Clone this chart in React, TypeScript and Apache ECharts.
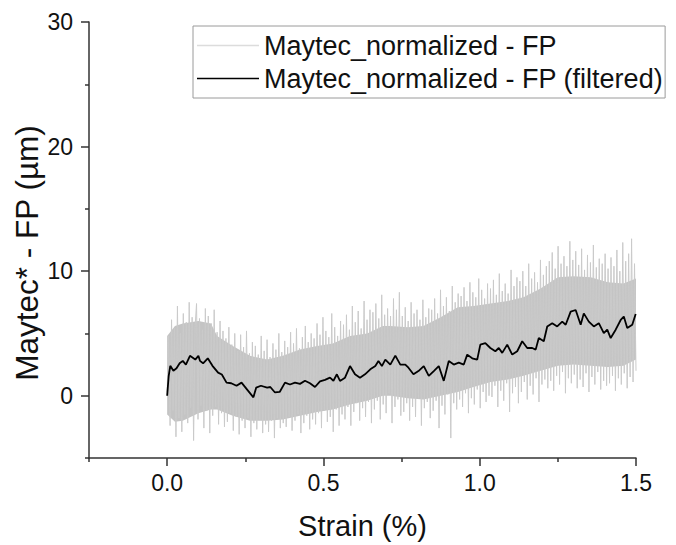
import React, { useEffect, useRef } from "react";
import * as echarts from "echarts";

// ---- Data ----
const seriesNames = ["Maytec_normalized - FP", "Maytec_normalized - FP (filtered)"];

const xMajorTicks = [0, 0.5, 1.0, 1.5];
const xMinorTicks = [-0.25, 0.25, 0.75, 1.25];
const yMajorTicks = [0, 10, 20, 30];
const yMinorTicks = [-5, 5, 15, 25];

// filtered curve (strain %, µm)
const filteredX = [
  0.0, 0.005, 0.01, 0.02, 0.03, 0.04, 0.05, 0.06, 0.073, 0.09, 0.1, 0.105, 0.115, 0.13, 0.145,
  0.163, 0.175, 0.19, 0.205, 0.222, 0.238, 0.254, 0.276, 0.285, 0.3, 0.32, 0.33, 0.345, 0.36,
  0.377, 0.393, 0.409, 0.425, 0.441, 0.457, 0.473, 0.489, 0.505, 0.521, 0.532, 0.543, 0.553,
  0.569, 0.585, 0.601, 0.617, 0.633, 0.65, 0.666, 0.676, 0.687, 0.698, 0.714, 0.73, 0.746,
  0.762, 0.772, 0.788, 0.804, 0.821, 0.837, 0.853, 0.869, 0.885, 0.901, 0.917, 0.933, 0.949,
  0.96, 0.976, 0.992, 1.002, 1.018, 1.034, 1.05, 1.061, 1.072, 1.088, 1.104, 1.12, 1.136,
  1.152, 1.168, 1.179, 1.189, 1.205, 1.216, 1.232, 1.248, 1.264, 1.275, 1.291, 1.307, 1.323,
  1.333, 1.349, 1.365, 1.381, 1.397, 1.408, 1.419, 1.435, 1.451, 1.461, 1.472, 1.488, 1.499,
];
const filteredY = [
  0.0, 1.6, 2.4, 2.0, 2.2, 2.6, 2.8, 2.5, 3.2, 2.9, 3.2, 2.8, 2.6, 3.0, 2.4,
  1.85, 1.7, 1.05, 1.0, 0.8, 1.05, 0.55, -0.13, 0.65, 0.8, 0.65, 0.7, 0.26, 0.3,
  1.05, 0.9, 1.05, 0.95, 1.2, 1.0, 0.7, 1.15, 1.27, 1.45, 1.2, 1.72, 1.19,
  1.45, 2.38, 1.72, 1.45, 1.72, 2.12, 2.38, 2.78, 2.38, 2.9, 2.5, 3.22, 2.5,
  2.5, 2.25, 1.72, 1.98, 2.38, 1.59, 1.98, 2.38, 1.19, 2.78, 2.5, 2.65, 2.5,
  3.3, 3.0, 2.9, 4.1, 4.23, 3.83, 3.57, 3.83, 3.44, 4.1, 3.3, 3.57, 4.37,
  3.83, 3.83, 3.7, 4.63, 4.37, 5.56, 5.82, 5.56, 5.95, 5.7, 6.75, 6.88, 5.69,
  6.61, 5.95, 5.56, 5.82, 5.03, 5.3, 4.63, 5.3, 6.08, 6.35, 5.43, 5.7, 6.56,
];

// dense core of the raw signal (lower / upper edge of the solid grey band)
const bandX = [
  0.0, 0.025, 0.05, 0.1, 0.14, 0.16, 0.21, 0.265, 0.32, 0.37,
  0.425, 0.48, 0.53, 0.585, 0.64, 0.69, 0.714, 0.77, 0.82, 0.875,
  0.93, 0.98, 1.035, 1.09, 1.14, 1.195, 1.25, 1.3, 1.355, 1.41,
  1.46, 1.5,
];
const bandHigh = [
  4.8, 5.6, 5.8, 6.0, 5.8, 4.8, 4.0, 3.2, 2.9, 3.2,
  3.7, 4.0, 4.2, 4.8, 5.0, 5.6, 5.6, 5.5, 5.6, 6.3,
  7.1, 7.2, 7.4, 7.6, 7.9, 8.6, 9.5, 9.6, 9.5, 9.1,
  9.0, 9.4,
];
const bandLow = [
  -1.5, -2.1, -2.0, -1.4, -1.1, -1.1, -1.6, -2.0, -2.0, -1.9,
  -1.6, -1.3, -1.1, -0.7, -0.4, 0.0, 0.0, -0.2, -0.3, 0.0,
  0.3, 0.7, 1.1, 1.3, 1.6, 2.0, 2.4, 2.5, 2.4, 2.3,
  2.4, 2.9,
];

// raw (unfiltered) readings, evenly sampled from 0 to 1.5 % strain
const rawY = [
  0.3, 4.8, -2.4, 6.1, -1.2, 5.4, -3.3, 7.2, -1.8, 5.0, -2.9, 6.6, -1.5, 5.9, -2.2, 7.5, -1.0, 6.3, -3.6, 5.5,
  7.4, -1.9, 6.2, -0.8, 5.3, -2.6, 7.0, -1.2, 6.4, -3.0, 5.8, -1.6, 6.9, -0.9, 5.1, -2.3, 6.0, -1.4, 5.2, -2.5,
  4.6, -2.1, 5.5, -1.4, 4.1, -2.8, 5.0, -1.7, 3.6, -3.1, 4.9, -2.0, 3.9, -2.6, 5.2, -1.8, 3.4, -3.3, 4.3, -2.2,
  4.0, -2.7, 3.3, -1.9, 4.8, -3.0, 3.6, -2.3, 4.5, -2.9, 3.1, -2.0, 4.2, -3.4, 3.7, -1.8, 5.0, -2.6, 3.5, -2.2,
  4.4, -2.5, 3.9, -1.7, 5.1, -2.8, 4.2, -2.0, 5.4, -1.5, 3.8, -3.0, 4.7, -2.2, 5.6, -1.6, 4.3, -2.7, 5.0, -1.9,
  4.6, -2.3, 5.8, -1.4, 4.9, -2.6, 6.3, -1.2, 5.2, -2.1, 4.7, -1.7, 6.6, -2.9, 5.5, -1.1, 4.8, -2.4, 6.0, -1.5,
  5.7, -1.9, 6.5, -0.9, 5.3, -2.4, 7.2, -1.3, 5.9, -0.6, 6.8, -2.0, 5.4, -1.0, 7.6, -1.7, 6.1, -0.5, 6.9, -2.2,
  6.7, -1.1, 7.4, -0.4, 6.2, -1.9, 8.1, -0.7, 6.5, -1.4, 7.0, 0.2, 6.4, -2.2, 7.8, -0.9, 6.9, -0.3, 8.3, -1.6,
  6.4, -1.3, 7.1, -0.6, 6.0, -2.0, 7.5, -0.9, 6.6, -1.7, 6.9, -0.2, 6.1, -2.4, 7.7, -1.0, 6.3, -0.5, 7.0, -1.8,
  6.9, -1.2, 7.8, -0.4, 6.6, -2.6, 8.5, -0.8, 7.2, -1.5, 7.9, 0.1, 6.8, -3.4, 8.8, -0.6, 7.5, -1.1, 8.2, -0.3,
  8.0, -0.9, 8.7, 0.2, 7.6, -1.4, 9.1, -0.2, 8.3, -0.7, 7.9, 0.5, 9.4, -1.0, 8.5, 0.3, 7.8, -0.5, 9.0, 0.0,
  8.6, -0.1, 9.3, 0.8, 8.1, -0.9, 9.8, 0.4, 8.4, -0.4, 9.0, 1.0, 8.2, -1.3, 10.1, 0.2, 8.8, 0.7, 9.5, -0.6,
  9.2, 0.3, 10.0, 1.1, 8.8, -0.3, 10.6, 0.8, 9.4, 0.1, 9.9, 1.4, 9.1, -0.5, 10.9, 0.9, 9.7, 1.3, 10.4, 0.6,
  10.8, 1.2, 11.5, 0.4, 10.2, 1.6, 12.0, 0.9, 10.6, 1.9, 11.2, 0.2, 10.4, 1.4, 12.4, 1.0, 10.9, 1.7, 11.6, 0.6,
  10.5, 1.3, 11.8, 0.7, 10.1, 1.8, 11.3, 0.3, 10.7, 1.5, 12.1, 0.9, 10.3, 1.9, 11.0, 0.5, 10.6, 1.2, 11.4, 0.8,
  10.2, 1.0, 11.1, 1.6, 10.4, 0.4, 11.7, 1.4, 10.0, 0.9, 12.3, 1.8, 10.8, 0.6, 11.4, 1.5, 12.6, 1.1, 10.6, 2.0,
];
const rawStart = 0;
const rawEnd = 1.5;

const FONT = "'Liberation Sans', Arial, Helvetica, sans-serif";
const AXIS_COLOR = "#333333";
const BAND_COLOR = "#c4c4c4";
const RAW_COLOR = "#cacaca";

export default function App() {
  const ref = useRef<HTMLDivElement>(null);

  useEffect(() => {
    if (!ref.current) return;
    const chart = echarts.init(ref.current, undefined, { renderer: "svg" });

    const step = (rawEnd - rawStart) / (rawY.length - 1);
    const rawData = rawY.map((v, i) => [rawStart + i * step, v]);
    const filteredData = filteredX.map((x, i) => [x, filteredY[i]]);

    const axisLine = { show: true, onZero: false, lineStyle: { color: AXIS_COLOR, width: 1.5 } };
    const tickStyle = { color: AXIS_COLOR, width: 1.5 };

    chart.setOption({
      animation: false,
      textStyle: { fontFamily: FONT },
      grid: { left: 89, right: 40, top: 22, bottom: 83, containLabel: false },
      legend: {
        orient: "vertical",
        left: 193,
        top: 26,
        padding: [6, 2, 6, 4],
        itemGap: 6,
        itemWidth: 62,
        itemHeight: 1.6,
        borderColor: "#9a9a9a",
        borderWidth: 1,
        textStyle: { fontSize: 27, lineHeight: 26, color: "#111", fontFamily: FONT },
        data: [
          { name: seriesNames[0], icon: "rect", itemStyle: { color: "#dcdcdc" } },
          { name: seriesNames[1], icon: "rect", itemStyle: { color: "#000" } },
        ],
      },
      xAxis: [
        {
          type: "value",
          min: -0.25,
          max: 1.5,
          position: "bottom",
          name: "Strain (%)",
          nameLocation: "middle",
          nameGap: 53,
          nameTextStyle: { fontSize: 29, color: "#111", fontFamily: FONT },
          axisLine,
          axisTick: { show: true, length: 8, customValues: xMajorTicks, lineStyle: tickStyle },
          axisLabel: {
            show: true,
            customValues: xMajorTicks,
            margin: 13,
            fontSize: 23,
            color: "#111",
            fontFamily: FONT,
            formatter: (v: number) => v.toFixed(1),
          },
          splitLine: { show: false },
        },
        {
          type: "value",
          min: -0.25,
          max: 1.5,
          position: "bottom",
          axisLine: { show: false, onZero: false },
          axisTick: { show: true, length: 4, customValues: xMinorTicks, lineStyle: tickStyle },
          axisLabel: { show: false },
          splitLine: { show: false },
        },
      ],
      yAxis: [
        {
          type: "value",
          min: -5,
          max: 30,
          position: "left",
          axisLine,
          axisTick: { show: true, length: 8, customValues: yMajorTicks, lineStyle: tickStyle },
          axisLabel: {
            show: true,
            customValues: yMajorTicks,
            margin: 16,
            fontSize: 23,
            color: "#111",
            fontFamily: FONT,
          },
          splitLine: { show: false },
        },
        {
          type: "value",
          min: -5,
          max: 30,
          position: "left",
          offset: 0,
          axisLine: { show: false, onZero: false },
          axisTick: { show: true, length: 4, customValues: yMinorTicks, lineStyle: tickStyle },
          axisLabel: { show: false },
          splitLine: { show: false },
        },
      ],
      graphic: [
        {
          type: "text",
          x: 27,
          y: 253,
          rotation: Math.PI / 2,
          style: {
            text: "Maytec* - FP (µm)",
            fontSize: 31.5,
            fontFamily: FONT,
            fill: "#111",
            textAlign: "center",
            textVerticalAlign: "middle",
          },
        },
      ],
      series: [
        {
          name: "band",
          type: "custom",
          silent: true,
          z: 1,
          data: [[0, 0]],
          renderItem: (_params: any, api: any) => {
            const upper = bandX.map((x, i) => api.coord([x, bandHigh[i]]));
            const lower = bandX.map((x, i) => api.coord([x, bandLow[i]])).reverse();
            return {
              type: "polygon",
              shape: { points: upper.concat(lower) },
              style: { fill: BAND_COLOR, stroke: "none" },
            };
          },
        },
        {
          name: seriesNames[0],
          type: "line",
          data: rawData,
          symbol: "none",
          showSymbol: false,
          lineStyle: { color: RAW_COLOR, width: 1 },
          itemStyle: { color: RAW_COLOR },
          z: 2,
        },
        {
          name: seriesNames[1],
          type: "line",
          data: filteredData,
          symbol: "none",
          showSymbol: false,
          lineStyle: { color: "#000", width: 1.8 },
          itemStyle: { color: "#000" },
          z: 3,
        },
      ],
    });

    return () => chart.dispose();
  }, []);

  return (
    <div
      ref={ref}
      style={{ position: "fixed", left: 0, top: 0, width: 676, height: 545, background: "#fff" }}
    />
  );
}
